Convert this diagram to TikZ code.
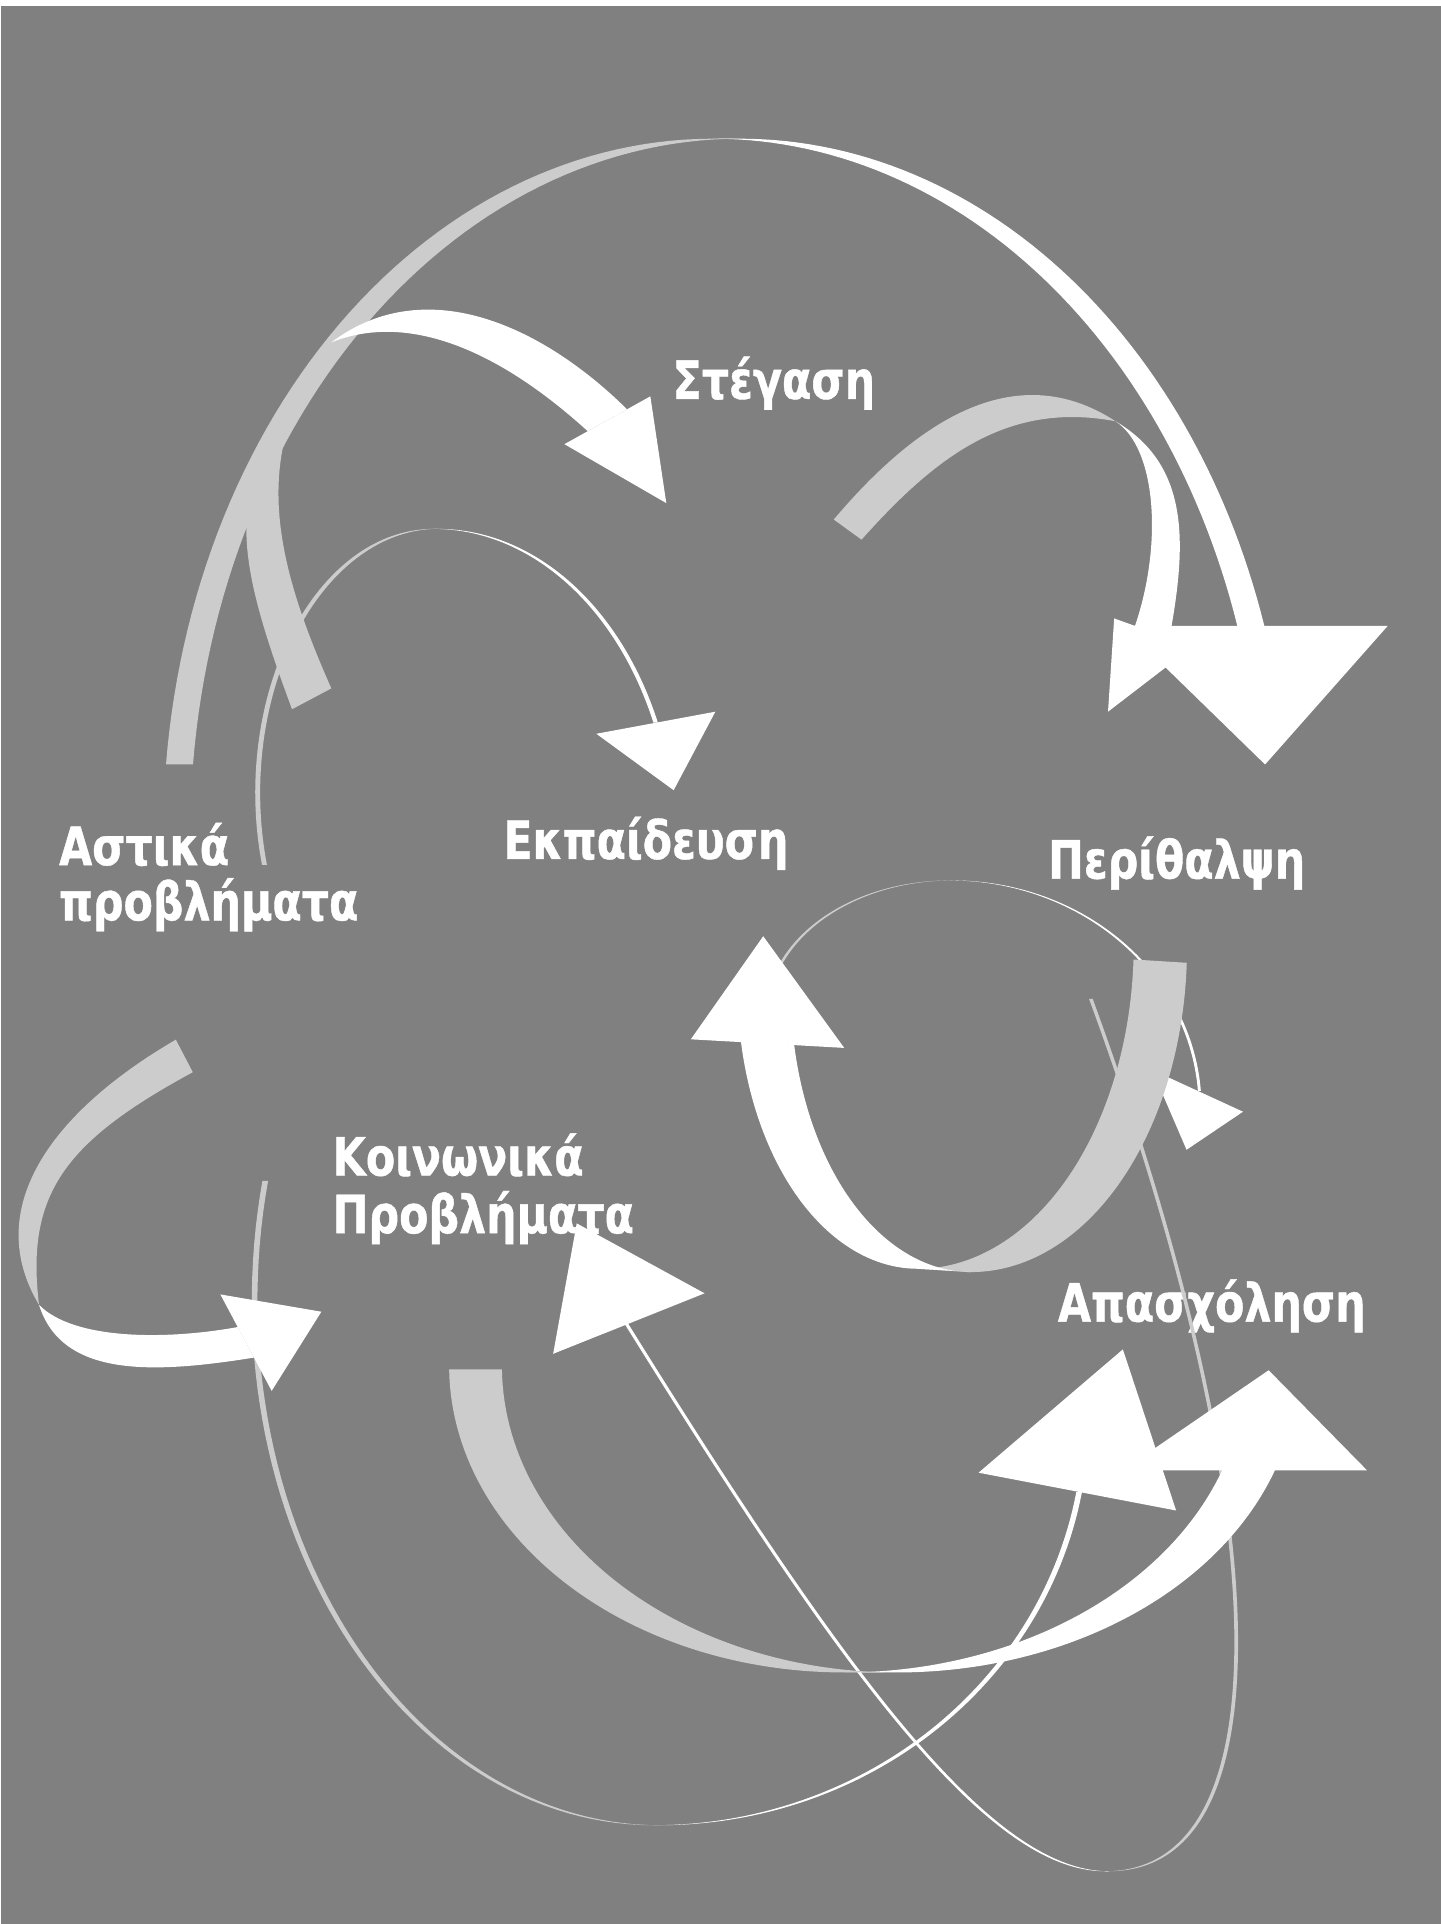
\documentclass[tikz,border=0pt]{standalone}
\usepackage{fontspec}
\newfontfamily\lblfont{DejaVu Sans}[FakeStretch=0.81,FakeBold=0.8]
\definecolor{bgc}{HTML}{808080}
\definecolor{lgc}{HTML}{CCCCCC}
\tikzset{
  lbl/.style={text=white, font=\lblfont\bfseries\fontsize{43}{45}\selectfont, inner sep=0pt, anchor=base west},
  back/.style={fill=lgc},
  front/.style={fill=white},
  pl/.style={samples=60, variable=\t}
}
\begin{document}
\begin{tikzpicture}[x=1pt,y=-1pt]
\useasboundingbox (0,0) rectangle (1174,1568);
\fill[white] (0,0) rectangle (1174,1568);
\fill[bgc] (0.8,4.9) rectangle (1174,1568);

% labels
\node[lbl] (steg) at (548,325) {Στέγαση};
\node[lbl] (ast1) at (48,705) {Αστικά};
\node[lbl] (ast2) at (48,750) {προβλήματα};
\node[lbl] (ekp) at (410,700) {Εκπαίδευση};
\node[lbl] (peri) at (854,716) {Περίθαλψη};
\node[lbl] (koin1) at (271,958) {Κοινωνικά};
\node[lbl] (koin2) at (271,1005) {Προβλήματα};
\node[lbl] (apas) at (862,1077) {Απασχόληση};

% I : thin, left bottom -> Apasxolisi
\fill[back] plot[pl, domain=103.2:0] ({535-2.3-327.5*sin(\t)},{1487.5-427.5*(1-cos(\t))})
  -- plot[pl, domain=0:103.2] ({535+2.3-327.5*sin(\t)},{1487.5-427.5*(1-cos(\t))}) -- cycle;
\fill[front] plot[pl, domain=0:79.8] ({535-2.3+350*sin(\t)},{1487.5-330*(1-cos(\t))})
  -- plot[pl, domain=79.8:0] ({535+2.3+350*sin(\t)},{1487.5-330*(1-cos(\t))}) -- cycle;
\fill[front] (797.5,1200.2) -- (915.1,1099.7) -- (958.5,1231) -- cycle;

% G : thin, right -> Koinonika
\fill[back] (887.5,814) .. controls (1035.4,1217.8) and (1050.5,1525) .. (900.5,1525)
  -- (903.5,1525) .. controls (1053.5,1525) and (1038.4,1217.8) .. (890.5,814) -- cycle;
\fill[front] (900.5,1525) .. controls (805.5,1525) and (688.6,1367.7) .. (509.1,1079)
  -- (512.1,1079) .. controls (691.6,1367.7) and (808.5,1525) .. (903.5,1525) -- cycle;
\fill[front] (450.8,1103.3) -- (470,997) -- (574.2,1054) -- cycle;

% H : bottom U arrow
\fill[back] plot[pl, domain=0:89.3] ({688-322*sin(\t)},{1363-250*(1-cos(\t))})
  -- plot[pl, domain=89.3:0] ({731-322*sin(\t)},{1363-250*(1-cos(\t))}) -- cycle;
\fill[front] plot[pl, domain=0:70.4] ({688+327*sin(\t)},{1363-248*(1-cos(\t))})
  -- plot[pl, domain=70.4:0] ({731+327*sin(\t)},{1363-248*(1-cos(\t))}) -- cycle;
\fill[front] (915,1198.2) -- (1114,1198.2) -- (1033.9,1116.7) -- cycle;

% J : left arrow
\fill[back] (143.3,847.3) .. controls (39.6,907.7) and (-14.4,986.2) .. (31.8,1063.4)
  .. controls (21,974) and (51.6,930.9) .. (157.1,873.8) -- cycle;
\fill[front] (31.8,1063.4) .. controls (50.8,1124) and (127.7,1119) .. (207,1106.4)
  -- (193.8,1081.5) .. controls (134.8,1092.2) and (59.8,1092) .. (31.8,1063.4) -- cycle;
\fill[front] (179.6,1054.9) -- (261.9,1069) -- (221.4,1133.5) -- cycle;

% F : thin arc over E
\fill[back] plot[pl, domain=67.9:0] ({775-1.2-150*sin(\t)},{717.5+110*(1-cos(\t))})
  -- plot[pl, domain=0:67.9] ({775+1.2-150*sin(\t)},{717.5+110*(1-cos(\t))}) -- cycle;
\fill[front] plot[pl, domain=0:85.8] ({775-1.2+203*sin(\t)},{717.5+185*(1-cos(\t))})
  -- plot[pl, domain=85.8:0] ({775+1.2+203*sin(\t)},{717.5+185*(1-cos(\t))}) -- cycle;
\fill[front] (939,872) -- (1013,906) -- (967,937) -- cycle;

% E : middle U arrow
\fill[back] plot[pl, domain=0:87.2] ({748+176*sin(\t)},{1034-265*(1-cos(\t))})
  -- plot[pl, domain=87.2:0] ({791.4+176*sin(\t)},{1036.7-265*(1-cos(\t))}) -- cycle;
\fill[front] plot[pl, domain=0:78.8] ({748-147*sin(\t)},{1034-230*(1-cos(\t))})
  -- plot[pl, domain=78.8:0] ({791.4-147*sin(\t)},{1036.7-230*(1-cos(\t))}) -- cycle;
\fill[front] (563,847) -- (622,763) -- (688,854) -- cycle;

% D : thin arc -> Ekpaideysi
\fill[back] plot[pl, domain=105.9:0] ({355-2-145*sin(\t)},{431+215*(1-cos(\t))})
  -- plot[pl, domain=0:105.9] ({355+2-145*sin(\t)},{431+215*(1-cos(\t))}) -- cycle;
\fill[front] plot[pl, domain=0:66.9] ({355-1.8+195*sin(\t)},{431+260*(1-cos(\t))})
  -- plot[pl, domain=66.9:0] ({355+1.8+195*sin(\t)},{431+260*(1-cos(\t))}) -- cycle;
\fill[front] (486,598) -- (583,580) -- (549,644) -- cycle;

% B : small arrow -> Perithalpsi
\fill[back] (679.5,423.4) .. controls (744,347) and (825.3,288.8) .. (909.1,343.3)
  .. controls (820.7,326.6) and (762,372.7) .. (702.1,439.8) -- cycle;
\fill[front] (909.1,343.3) .. controls (969.3,379) and (967.6,441.4) .. (953,520)
  -- (925,510) .. controls (947.6,443.8) and (942.6,365.1) .. (909.1,343.3) -- cycle;
\fill[front] (908,504) -- (972,527) -- (903,580) -- cycle;

% A : big top arrow
\fill[back] plot[pl, domain=185.77:270] ({581+448*cos(\t)},{680+567*sin(\t)})
  -- plot[pl, domain=270:185.77] ({603+448*cos(\t)},{680+567*sin(\t)}) -- cycle;
\fill[front] plot[pl, domain=270:342.55] ({581+448*cos(\t)},{680+567*sin(\t)})
  -- plot[pl, domain=342.55:270] ({603+448*cos(\t)},{680+567*sin(\t)}) -- cycle;
\fill[front] (915,510) -- (1131,510) -- (1031,623) -- cycle;

% C : arrow -> Stegasi
\fill[back] (238,578) .. controls (182.3,428.1) and (186,391) .. (270,279)
  .. controls (204.4,367.3) and (221.4,451.3) .. (270,561) -- cycle;
\fill[front] (270,279) .. controls (350,219) and (447.1,270.2) .. (511,333.6)
  -- (479,351.4) .. controls (442,317.9) and (353.7,245.7) .. (270,279) -- cycle;
\fill[front] (460,362) -- (530,323) -- (543,410) -- cycle;
\end{tikzpicture}
\end{document}
